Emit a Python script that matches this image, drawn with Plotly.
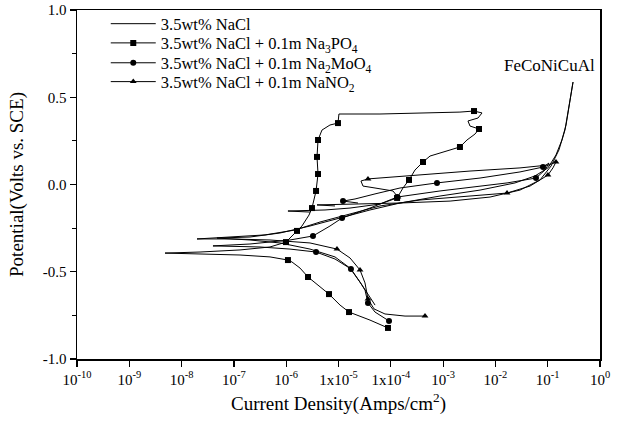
import plotly.graph_objects as go

# ---- data (current in A/cm^2, potential in V vs SCE) ----
NACL_I = [5.0e-5, 2.81e-5, 1.66e-5, 8.57e-6, 2.85e-6, 7.6e-7, 2.03e-7, 4.75e-8,
          2.03e-7, 7.6e-7, 2.85e-6, 1.07e-5, 4.0e-5, 1.5e-4, 8.73e-4, 5.08e-3,
          2.37e-2, 5.71e-2, 1.01e-1, 1.44e-1, 1.87e-1, 2.24e-1, 2.55e-1, 2.79e-1, 3.05e-1,
          2.67e-1, 2.14e-1, 1.64e-1, 1.16e-1, 7.13e-2, 2.95e-2, 7.89e-3, 1.36e-3,
          1.5e-4, 2.58e-5, 3.88e-6, 8.57e-6]
NACL_E = [-0.691, -0.576, -0.479, -0.415, -0.370, -0.335, -0.318, -0.307,
          -0.301, -0.278, -0.238, -0.192, -0.146, -0.106, -0.066, -0.032,
          0.009, 0.049, 0.095, 0.169, 0.255, 0.341, 0.438, 0.513, 0.587,
          0.484, 0.312, 0.198, 0.106, 0.026, -0.032, -0.072, -0.095,
          -0.106, -0.112, -0.117, -0.123]

PO4_I = [8.83e-5, 4.0e-5, 1.59e-5, 1.07e-5, 6.58e-6, 4.06e-6, 2.61e-6, 1.84e-6,
         1.29e-6, 1.08e-6, 4.9e-7, 1.31e-7, 2.25e-8, 4.82e-9, 2.25e-8, 1.31e-7,
         4.9e-7, 9.91e-7, 1.61e-6, 2.0e-6, 2.73e-6, 3.11e-6, 3.72e-6, 4.06e-6,
         3.88e-6, 4.06e-6, 4.83e-6, 6.87e-6, 9.77e-6, 1.02e-5, 6.21e-5, 5.62e-4,
         2.10e-3, 3.90e-3, 5.55e-3, 4.65e-3, 2.99e-3, 3.27e-3, 4.86e-3, 4.07e-3,
         2.86e-3, 2.10e-3, 1.09e-3, 5.62e-4, 4.13e-4, 2.90e-4, 2.23e-4, 1.71e-4,
         1.32e-4, 6.21e-5, 1.66e-5, 5.52e-6, 1.08e-6, 2.85e-6]
PO4_E = [-0.822, -0.777, -0.731, -0.691, -0.628, -0.576, -0.530, -0.479,
         -0.444, -0.433, -0.415, -0.404, -0.398, -0.393, -0.387, -0.375,
         -0.358, -0.330, -0.266, -0.238, -0.175, -0.135, -0.037, 0.060,
         0.158, 0.255, 0.312, 0.341, 0.352, 0.404, 0.404, 0.410,
         0.415, 0.421, 0.410, 0.381, 0.364, 0.335, 0.318, 0.289,
         0.255, 0.215, 0.191, 0.163, 0.129, 0.083, 0.026, -0.020,
         -0.077, -0.112, -0.135, -0.146, -0.152, -0.158]
PO4_MARKS = [0, 2, 4, 6, 9, 17, 18, 21, 22, 23, 24, 25, 28, 33, 38, 41, 44, 46, 48]

MOO4_I = [9.25e-5, 4.99e-5, 3.66e-5, 3.21e-5, 2.58e-5, 1.73e-5, 8.57e-6, 3.72e-6,
          1.18e-6, 3.16e-7, 3.98e-8, 2.03e-7, 1.18e-6, 3.25e-6, 6.87e-6, 1.17e-5,
          4.0e-5, 1.32e-4, 8.73e-4, 5.08e-3, 1.67e-2, 5.97e-2, 8.87e-2, 1.06e-1,
          8.13e-2, 2.95e-2, 5.08e-3, 7.64e-4, 1.5e-4, 4.99e-5, 2.07e-5, 1.22e-5, 2.36e-5]
MOO4_E = [-0.782, -0.731, -0.679, -0.605, -0.559, -0.484, -0.427, -0.387,
          -0.370, -0.358, -0.352, -0.341, -0.318, -0.295, -0.238, -0.192,
          -0.135, -0.072, -0.037, -0.009, 0.009, 0.037, 0.083, 0.123,
          0.100, 0.072, 0.037, 0.009, -0.020, -0.054, -0.083, -0.095, -0.106]
MOO4_MARKS = [0, 2, 5, 7, 13, 15, 17, 21, 24, 27, 31]

NO2_I = [4.51e-4, 1.87e-4, 7.74e-5, 4.78e-5, 3.66e-5, 3.21e-5, 2.58e-5, 1.66e-5,
         9.35e-6, 2.85e-6, 4.9e-7, 8.41e-8, 1.97e-8, 8.41e-8, 3.94e-7, 1.47e-6,
         4.43e-6, 1.66e-5, 6.21e-5, 3.61e-4, 2.10e-3, 1.67e-2, 4.59e-2, 1.01e-1,
         1.26e-1, 1.44e-1, 1.06e-1, 2.95e-2, 3.27e-3, 3.61e-4, 3.66e-5, 2.69e-5,
         2.94e-5, 4.99e-5, 1.10e-4, 1.37e-4]
NO2_E = [-0.754, -0.754, -0.742, -0.713, -0.656, -0.564, -0.490, -0.421,
         -0.370, -0.335, -0.318, -0.312, -0.312, -0.301, -0.289, -0.261,
         -0.215, -0.169, -0.123, -0.089, -0.072, -0.049, -0.009, 0.054,
         0.095, 0.129, 0.112, 0.095, 0.077, 0.054, 0.032, 0.020,
         -0.009, -0.020, -0.037, -0.072]
NO2_MARKS = [0, 4, 6, 8, 21, 23, 25, 30, 35]

X_TICKS = [1e-10, 1e-9, 1e-8, 1e-7, 1e-6, 1e-5, 1e-4, 1e-3, 1e-2, 1e-1, 1]
X_TICKTEXT = ["10<sup>-10</sup>", "10<sup>-9</sup>", "10<sup>-8</sup>", "10<sup>-7</sup>",
              "10<sup>-6</sup>", "1x10<sup>-5</sup>", "1x10<sup>-4</sup>", "10<sup>-3</sup>",
              "10<sup>-2</sup>", "10<sup>-1</sup>", "10<sup>0</sup>"]
Y_TICKS = [-1.0, -0.5, 0.0, 0.5, 1.0]
Y_TICKTEXT = ["-1.0", "-0.5", "0.0", "0.5", "1.0"]

SERIES = [
    ("3.5wt% NaCl", NACL_I, NACL_E, [], None),
    ("3.5wt% NaCl + 0.1m Na<sub>3</sub>PO<sub>4</sub>", PO4_I, PO4_E, PO4_MARKS, "square"),
    ("3.5wt% NaCl + 0.1m Na<sub>2</sub>MoO<sub>4</sub>", MOO4_I, MOO4_E, MOO4_MARKS, "circle"),
    ("3.5wt% NaCl + 0.1m NaNO<sub>2</sub>", NO2_I, NO2_E, NO2_MARKS, "triangle-up"),
]

FONT = "Liberation Serif, Times New Roman, serif"
LEGEND_NAMES = ["legend", "legend2", "legend3", "legend4"]
LEGEND_Y = [0.96, 0.905, 0.848, 0.794]   # paper y of each legend row

fig = go.Figure()
for (name, xi, ye, marks, sym), lg in zip(SERIES, LEGEND_NAMES):
    fig.add_trace(go.Scatter(x=xi, y=ye, mode="lines", line=dict(color="black", width=1),
                             showlegend=False, hoverinfo="skip"))
    if marks:
        fig.add_trace(go.Scatter(x=[xi[k] for k in marks], y=[ye[k] for k in marks],
                                 mode="markers", showlegend=False, hoverinfo="skip",
                                 marker=dict(symbol=sym, size=6, color="black")))
    # legend entry
    fig.add_trace(go.Scatter(x=[None], y=[None], name=name, legend=lg,
                             mode="lines+markers" if sym else "lines",
                             line=dict(color="black", width=1),
                             marker=dict(symbol=sym or "circle", size=6, color="black")))

fig.add_annotation(text="FeCoNiCuAl", xref="paper", yref="paper", x=0.995, y=0.842,
                   xanchor="right", yanchor="middle",
                   showarrow=False, font=dict(family=FONT, size=17, color="black"))

axis_common = dict(showline=True, linecolor="black", linewidth=1.5, mirror=True,
                   showgrid=False, zeroline=False, ticks="outside", ticklen=6,
                   tickwidth=1.2, tickcolor="black", automargin=False,
                   tickfont=dict(family=FONT, size=15, color="black"))

legend_style = dict(x=0.055, xanchor="left", yanchor="middle", bgcolor="rgba(0,0,0,0)",
                    font=dict(family=FONT, size=16.5, color="black"), itemwidth=45,
                    tracegroupgap=0, borderwidth=0)

layout_legends = {lg: dict(y=yy, **legend_style) for lg, yy in zip(LEGEND_NAMES, LEGEND_Y)}

fig.update_layout(
    width=621, height=425,
    margin=dict(l=77, r=21, t=10, b=66, autoexpand=False),
    paper_bgcolor="white", plot_bgcolor="white",
    font=dict(family=FONT, color="black"),
    xaxis=dict(type="log", range=[-10, 0], tickvals=X_TICKS, ticktext=X_TICKTEXT,
               title=dict(text="Current Density(Amps/cm<sup>2</sup>)",
                          font=dict(family=FONT, size=19), standoff=10),
               **axis_common),
    yaxis=dict(range=[-1, 1], tickvals=Y_TICKS, ticktext=Y_TICKTEXT,
               minor=dict(dtick=0.25, ticks="outside", ticklen=4, tickcolor="black"),
               title=dict(text="Potential(Volts vs. SCE)",
                          font=dict(family=FONT, size=19), standoff=14),
               **axis_common),
    showlegend=True,
    hovermode=False,
    **layout_legends,
)

fig.write_html("out.html", config={"displayModeBar": False, "staticPlot": True},
               post_script="document.body.style.margin='0';document.body.style.overflow='hidden';")
